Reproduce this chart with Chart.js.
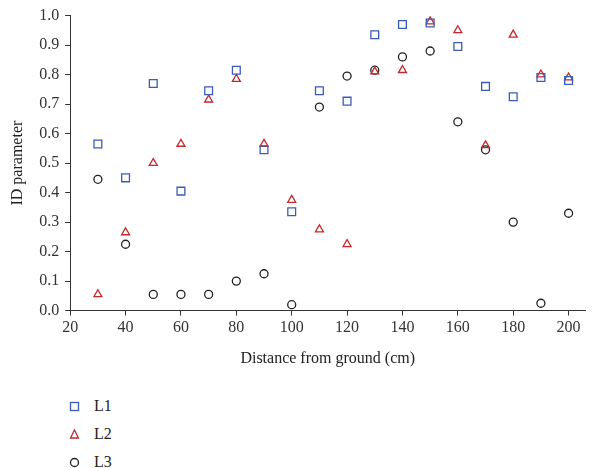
<!DOCTYPE html>
<html>
<head>
<meta charset="utf-8">
<script src="https://cdn.jsdelivr.net/npm/chart.js@4/dist/chart.umd.min.js"></script>
<style>
    body { margin: 0; background: #fff; }
    #wrap { position: relative; width: 592px; height: 468px; }
    #chartBox { position: absolute; left: 0; top: 0; width: 592px; height: 372px; }
    #legend { position: absolute; left: 68px; top: 392px; font-family: 'Liberation Serif', serif; font-size: 16px; color: #222; }
    #legend div { display: flex; align-items: center; height: 28px; }
    #legend svg { margin-right: 13px; }
</style>
</head>
<body>
<div id="wrap">
    <div id="chartBox"><canvas id="idChart"></canvas></div>
    <div id="legend"></div>
</div>
<script>
// Distance from ground (cm)
const distances = [30, 40, 50, 60, 70, 80, 90, 100, 110, 120, 130, 140, 150, 160, 170, 180, 190, 200];

// ID parameter per line
const l1Values = [0.565, 0.45, 0.77, 0.405, 0.745, 0.815, 0.545, 0.335, 0.745, 0.71, 0.935, 0.97, 0.975, 0.895, 0.76, 0.725, 0.79, 0.78];
const l2Values = [0.055, 0.265, 0.50, 0.565, 0.715, 0.785, 0.565, 0.375, 0.275, 0.225, 0.81, 0.815, 0.98, 0.95, 0.56, 0.935, 0.80, 0.79];
const l3Values = [0.445, 0.225, 0.055, 0.055, 0.055, 0.10, 0.125, 0.02, 0.69, 0.795, 0.815, 0.86, 0.88, 0.64, 0.545, 0.30, 0.025, 0.33];

const seriesNames = ['L1', 'L2', 'L3'];
const xTicks = [20, 40, 60, 80, 100, 120, 140, 160, 180, 200];

const toPoints = vals => vals.map((v, i) => ({ x: distances[i], y: v }));

const font = { family: "'Liberation Serif', serif", size: 16 };
const axisColor = '#333';

const styles = [
    { color: '#3b5bb8', point: 'rect', radius: 5.5 },
    { color: '#c8262c', point: 'triangle', radius: 4.6 },
    { color: '#222222', point: 'circle', radius: 4 }
];
const allValues = [l1Values, l2Values, l3Values];

const ctx = document.getElementById('idChart').getContext('2d');
const idChart = new Chart(ctx, {
    type: 'scatter',
    data: {
        datasets: seriesNames.map((name, i) => ({
            label: name,
            data: toPoints(allValues[i]),
            borderColor: styles[i].color,
            backgroundColor: 'rgba(0,0,0,0)',
            pointStyle: styles[i].point,
            pointRadius: styles[i].radius,
            pointBorderWidth: 1.3
        }))
    },
    options: {
        responsive: true,
        maintainAspectRatio: false,
        animation: false,
        layout: { padding: { top: 12, right: 0, left: 4 } },
        plugins: {
            legend: { display: false },
            tooltip: { enabled: false }
        },
        scales: {
            x: {
                type: 'linear',
                min: 20,
                max: 206,
                afterBuildTicks: axis => { axis.ticks = xTicks.map(v => ({ value: v })); },
                ticks: { font: font, color: '#333', padding: 3, maxRotation: 0 },
                grid: { drawOnChartArea: false, drawTicks: true, tickLength: 5, color: axisColor },
                border: { color: axisColor, width: 1 },
                title: { display: true, text: 'Distance from ground (cm)', font: font, color: '#222', padding: { top: 8 } }
            },
            y: {
                min: 0,
                max: 1,
                ticks: {
                    stepSize: 0.1,
                    font: font,
                    color: '#333',
                    padding: 6,
                    callback: v => Number(v).toFixed(1)
                },
                grid: { drawOnChartArea: false, drawTicks: true, tickLength: 5, color: axisColor },
                border: { color: axisColor, width: 1 },
                title: { display: true, text: 'ID parameter', font: font, color: '#222', padding: { bottom: 6 } }
            }
        }
    }
});

// Vertical legend below the chart, built from the datasets
const legendEl = document.getElementById('legend');
idChart.data.datasets.forEach((ds, i) => {
    const c = ds.borderColor;
    let shape;
    if (ds.pointStyle === 'rect') {
        shape = `<rect x="2.5" y="2.5" width="8" height="8" fill="none" stroke="${c}" stroke-width="1.3"/>`;
    } else if (ds.pointStyle === 'triangle') {
        shape = `<polygon points="6.5,2 10.5,10 2.5,10" fill="none" stroke="${c}" stroke-width="1.3"/>`;
    } else {
        shape = `<circle cx="6.5" cy="6.5" r="4" fill="none" stroke="${c}" stroke-width="1.3"/>`;
    }
    const row = document.createElement('div');
    row.innerHTML = `<svg width="13" height="13">${shape}</svg><span>${ds.label}</span>`;
    legendEl.appendChild(row);
});
</script>
</body>
</html>
